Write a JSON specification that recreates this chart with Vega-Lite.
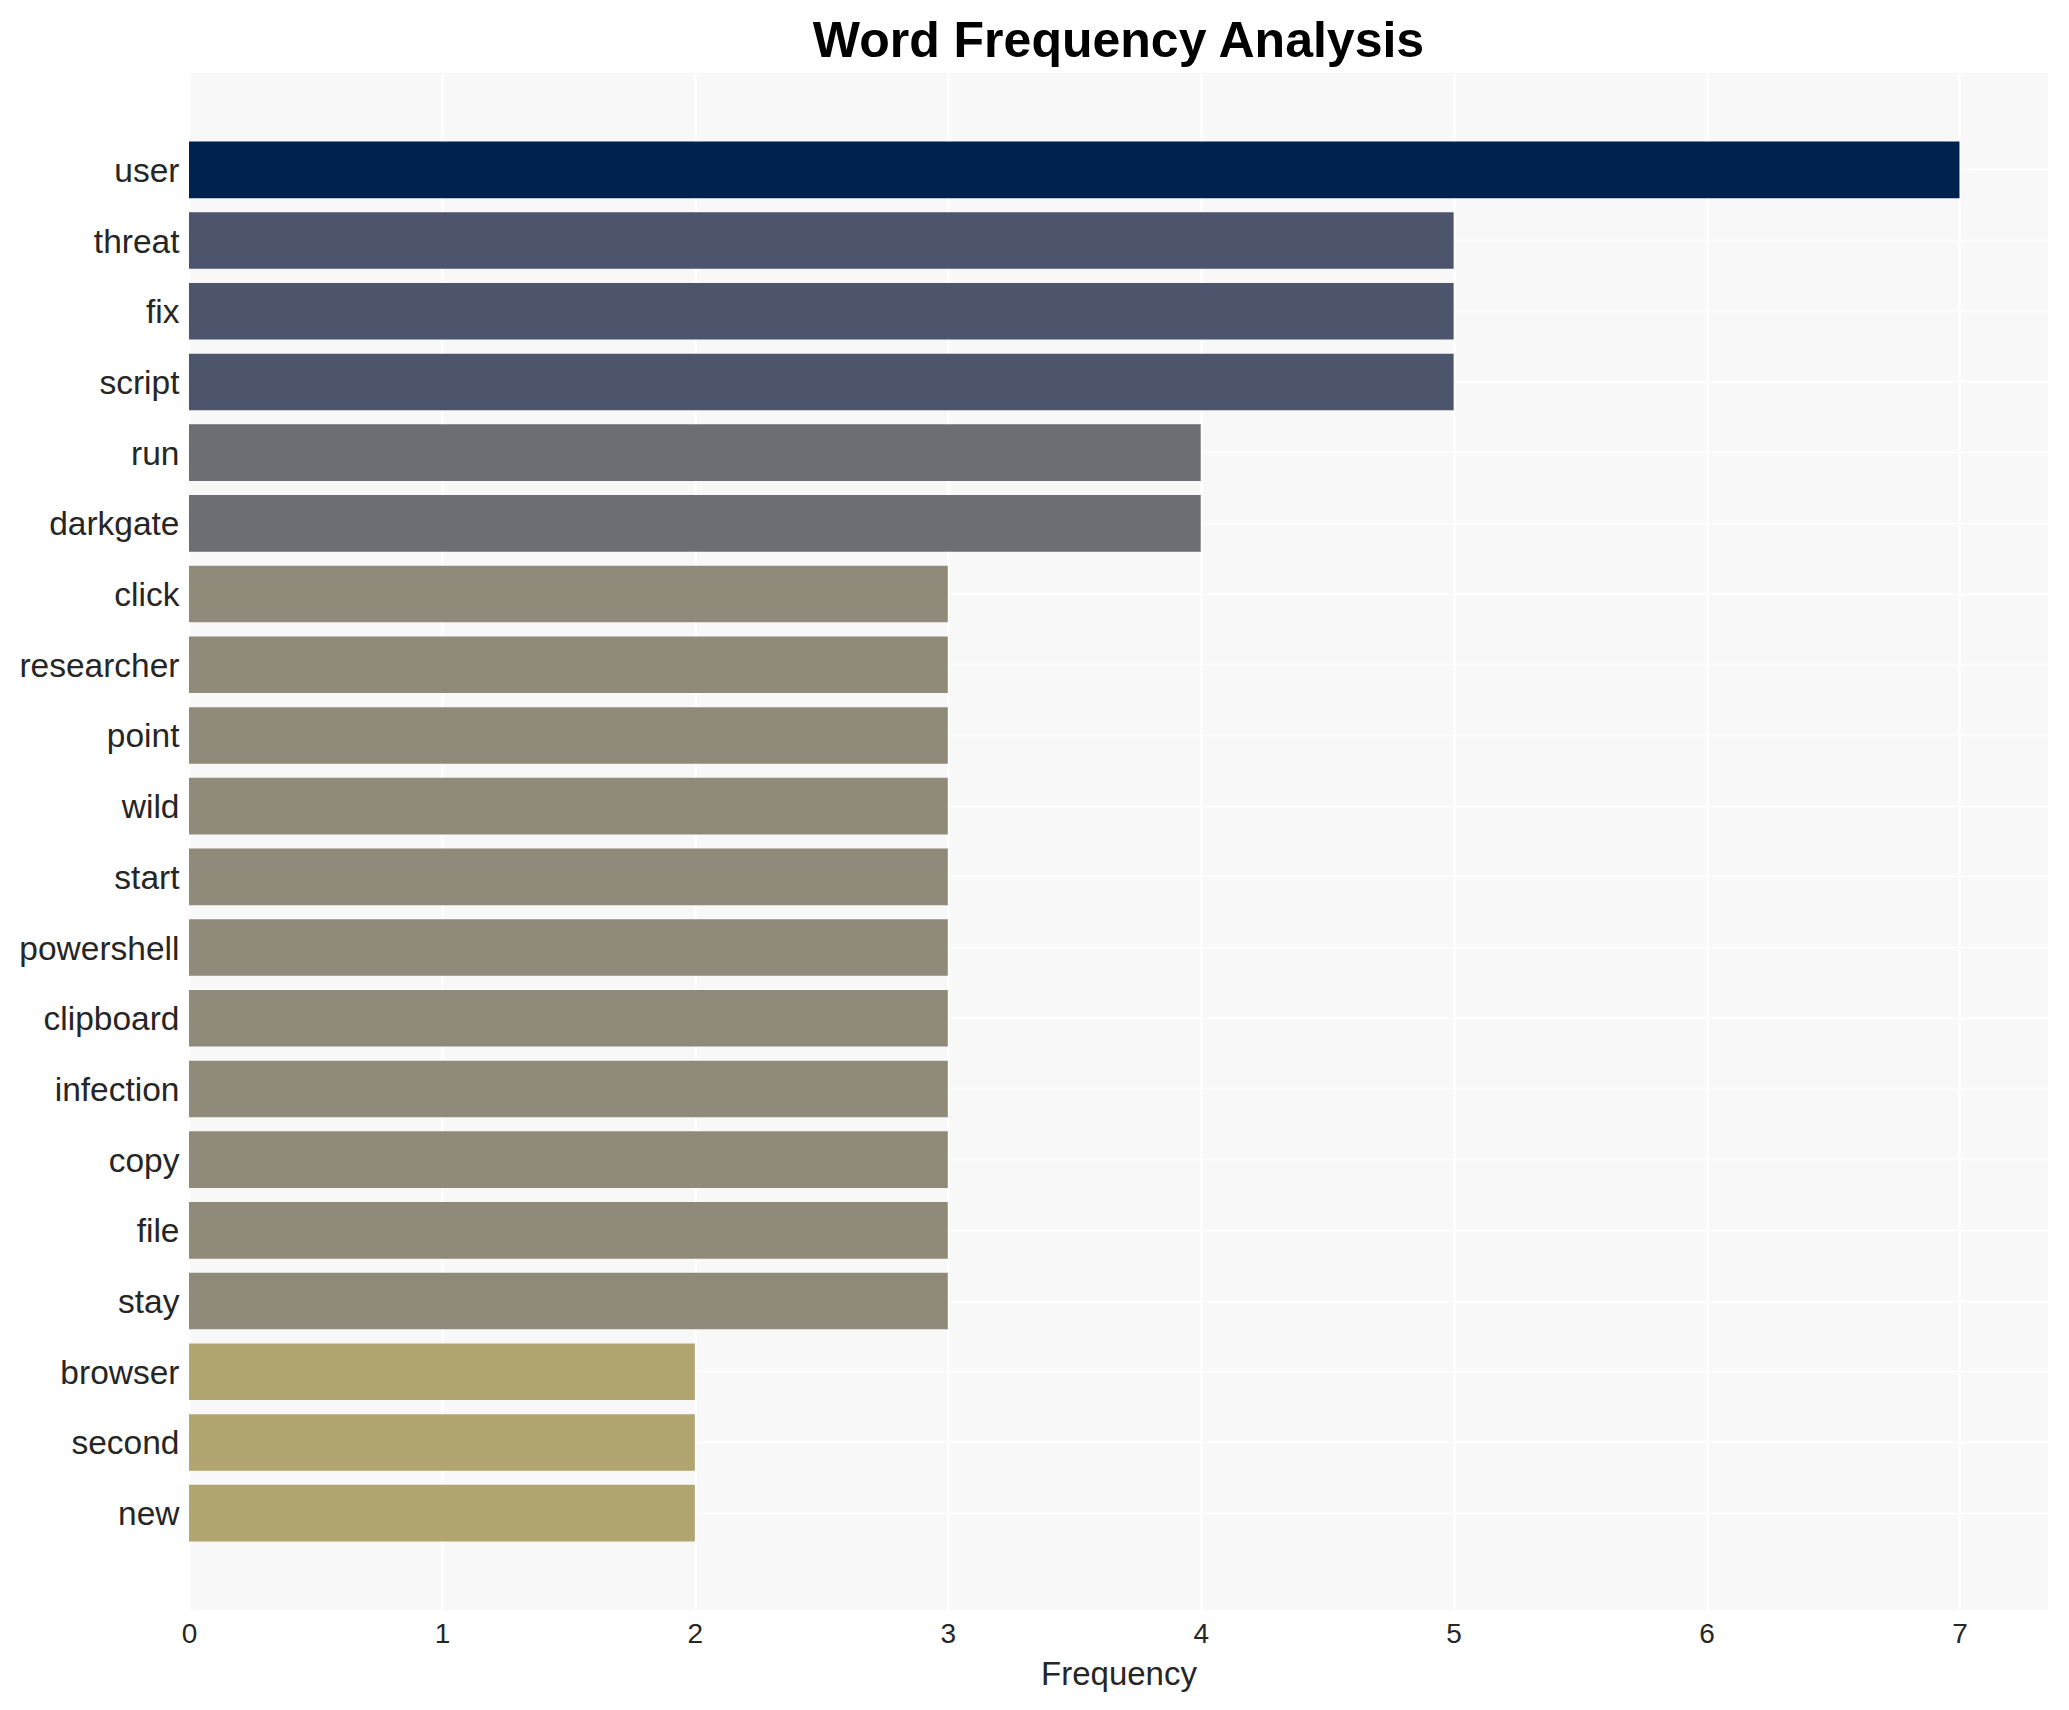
{
  "$schema": "https://vega.github.io/schema/vega-lite/v6.json",
  "width": 1859,
  "height": 1537,
  "autosize": {"type": "none"},
  "padding": {"left": 189, "top": 73, "right": 21, "bottom": 100},
  "background": "white",
  "title": {
    "text": "Word Frequency Analysis",
    "fontSize": 50,
    "fontWeight": "bold",
    "font": "Liberation Sans",
    "color": "black",
    "anchor": "middle",
    "offset": 6
  },
  "config": {
    "view": {"fill": "#f8f8f8", "stroke": null},
    "axis": {"gridColor": "white", "gridWidth": 2.5, "domain": false, "ticks": false, "labelFont": "Liberation Sans", "titleFont": "Liberation Sans", "labelColor": "#262626", "titleColor": "#262626"}
  },
  "data": {
    "values": [
      {"word": "user", "frequency": 7},
      {"word": "threat", "frequency": 5},
      {"word": "fix", "frequency": 5},
      {"word": "script", "frequency": 5},
      {"word": "run", "frequency": 4},
      {"word": "darkgate", "frequency": 4},
      {"word": "click", "frequency": 3},
      {"word": "researcher", "frequency": 3},
      {"word": "point", "frequency": 3},
      {"word": "wild", "frequency": 3},
      {"word": "start", "frequency": 3},
      {"word": "powershell", "frequency": 3},
      {"word": "clipboard", "frequency": 3},
      {"word": "infection", "frequency": 3},
      {"word": "copy", "frequency": 3},
      {"word": "file", "frequency": 3},
      {"word": "stay", "frequency": 3},
      {"word": "browser", "frequency": 2},
      {"word": "second", "frequency": 2},
      {"word": "new", "frequency": 2}
    ]
  },
  "mark": {"type": "bar"},
  "encoding": {
    "y": {
      "field": "word",
      "type": "nominal",
      "sort": null,
      "scale": {"paddingInner": 0.2, "paddingOuter": 0.97},
      "axis": {"title": null, "labelFontSize": 33.5, "labelPadding": 10, "labelOffset": 2, "grid": true, "bandPosition": 0.5, "gridWidth": 1.5}
    },
    "x": {
      "field": "frequency",
      "type": "quantitative",
      "scale": {"domain": [0, 7.35], "nice": false, "zero": true},
      "axis": {"title": "Frequency", "values": [0, 1, 2, 3, 4, 5, 6, 7], "labelFlush": false, "labelFontSize": 28, "labelPadding": 10, "titleFontSize": 33, "titleFontWeight": "normal", "titlePadding": 10, "grid": true}
    },
    "color": {
      "field": "frequency",
      "type": "ordinal",
      "scale": {"domain": [7, 5, 4, 3, 2], "range": ["#00224e", "#4c556c", "#6d6e73", "#8f8a79", "#b1a570"]},
      "legend": null
    }
  }
}
